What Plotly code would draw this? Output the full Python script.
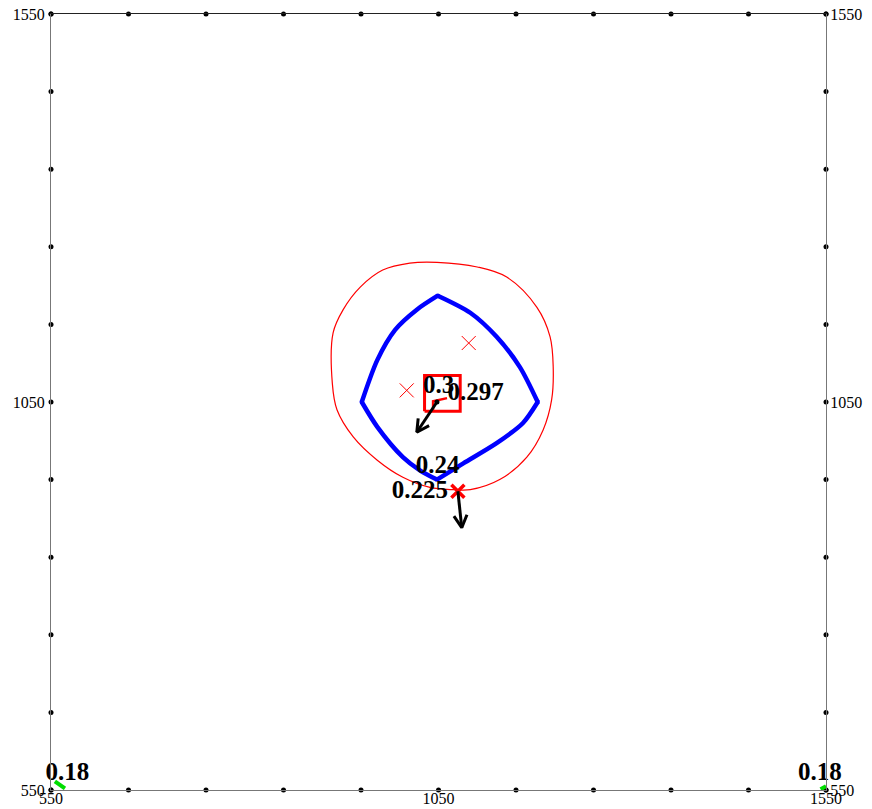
import numpy as np
import plotly.graph_objects as go

# ---- data ----------------------------------------------------------------
axis_range = [550, 1550]
tick_vals = [550, 1050, 1550]
tick_text = ["550", "1050", "1550"]
grid_dots = list(range(550, 1551, 100))

# blue region boundary, split at its four corners
blue_edges_x = [
    [1049, 1091, 1125, 1155, 1178],
    [1178, 1159, 1125, 1082, 1048],
    [1048, 1026, 1004, 971, 951],
    [951, 971, 994, 1022, 1049],
]
blue_edges_y = [
    [1187, 1165, 1134, 1095, 1050],
    [1050, 1023, 997, 971, 950],
    [950, 962, 979, 1018, 1050],
    [1050, 1104, 1143, 1169, 1187],
]

# red outer contour
red_x = [1048, 1100, 1138, 1177, 1194, 1198, 1196, 1185, 1164, 1129, 1091, 1069, 1039, 1004,
         971, 940, 919, 913, 914, 927, 949, 978, 1013, 1048]
red_y = [1230, 1224, 1211, 1172, 1134, 1095, 1053, 1014, 979, 950, 937, 937, 940, 953,
         975, 1005, 1040, 1074, 1139, 1169, 1198, 1220, 1229, 1230]

# thin red crosses
cross_x = [1089, 1009]
cross_y = [1126, 1065]

# bold red cross
bold_cross_x = [1075]
bold_cross_y = [935]

# red square (center and half width)
square_cx, square_cy, square_half = 1055, 1061, 23

# short red path inside square
path_x = [1043, 1043, 1061]
path_y = [1040, 1051, 1055]

# black point
dot_x = [1048]
dot_y = [1050]

# arrows: (x0, y0, x1, y1)
arrows = [(1048, 1050, 1022, 1011), (1075, 935, 1080, 888)]

# green corner segments
green_segments = [([555, 568], [561, 552]), ([1543, 1550], [551, 555])]

# value labels
label_text = ["0.3", "0.297", "0.24", "0.225", "0.18", "0.18"]
label_x = [1050, 1098, 1049, 1026, 571, 1542]
label_y = [1070, 1060, 966, 934, 571, 571]

# ---- figure --------------------------------------------------------------
fig = go.Figure()

# tick dots along all four edges
edge_x = grid_dots * 2 + [550] * len(grid_dots) + [1550] * len(grid_dots)
edge_y = [550] * len(grid_dots) + [1550] * len(grid_dots) + grid_dots * 2
fig.add_trace(go.Scatter(x=edge_x, y=edge_y, mode="markers",
                         marker=dict(color="black", size=5), cliponaxis=False,
                         hoverinfo="skip"))

fig.add_trace(go.Scatter(x=red_x, y=red_y, mode="lines",
                         line=dict(color="red", width=1.2, shape="spline", smoothing=1.0)))
for ex, ey in zip(blue_edges_x, blue_edges_y):
    fig.add_trace(go.Scatter(x=ex, y=ey, mode="lines",
                             line=dict(color="#0000ff", width=4.5, shape="spline", smoothing=0.8)))
corner_x = [e[0] for e in blue_edges_x]
corner_y = [e[0] for e in blue_edges_y]
fig.add_trace(go.Scatter(x=corner_x, y=corner_y, mode="markers",
                         marker=dict(color="#0000ff", size=4.5)))

# red square
sq_x = [square_cx - square_half, square_cx + square_half, square_cx + square_half,
        square_cx - square_half, square_cx - square_half]
sq_y = [square_cy - square_half, square_cy - square_half, square_cy + square_half,
        square_cy + square_half, square_cy - square_half]
fig.add_trace(go.Scatter(x=sq_x, y=sq_y, mode="lines", line=dict(color="red", width=3)))
fig.add_trace(go.Scatter(x=path_x, y=path_y, mode="lines", line=dict(color="red", width=2.5)))

fig.add_trace(go.Scatter(x=cross_x, y=cross_y, mode="markers",
                         marker=dict(symbol="x-thin-open", size=14, color="red",
                                     line=dict(color="red", width=1))))
fig.add_trace(go.Scatter(x=bold_cross_x, y=bold_cross_y, mode="markers",
                         marker=dict(symbol="x-thin-open", size=13, color="red",
                                     line=dict(color="red", width=3.5))))

# arrows with open heads
head_len, head_ang = 18, np.deg2rad(28)
for x0, y0, x1, y1 in arrows:
    d = np.arctan2(y1 - y0, x1 - x0)
    hx = [x1 - head_len * np.cos(d - head_ang), x1, x1 - head_len * np.cos(d + head_ang)]
    hy = [y1 - head_len * np.sin(d - head_ang), y1, y1 - head_len * np.sin(d + head_ang)]
    fig.add_trace(go.Scatter(x=[x0, x1], y=[y0, y1], mode="lines",
                             line=dict(color="black", width=3)))
    fig.add_trace(go.Scatter(x=hx, y=hy, mode="lines",
                             line=dict(color="black", width=3)))

fig.add_trace(go.Scatter(x=dot_x, y=dot_y, mode="markers", marker=dict(color="black", size=5)))

for gx, gy in green_segments:
    fig.add_trace(go.Scatter(x=gx, y=gy, mode="lines", cliponaxis=False,
                             line=dict(color="#00dd00", width=4)))

fig.add_trace(go.Scatter(x=label_x, y=label_y, mode="text", text=label_text,
                         cliponaxis=False,
                         textfont=dict(family="Liberation Serif", size=25, color="black",
                                       weight="bold")))

axis_font = dict(family="Liberation Serif", size=16, color="black")
fig.update_layout(
    width=872, height=809,
    margin=dict(l=51, r=46, t=14, b=19, autoexpand=False),
    paper_bgcolor="white", plot_bgcolor="white",
    showlegend=False,
    xaxis=dict(range=axis_range, tickvals=tick_vals, ticktext=tick_text, tickfont=axis_font,
               showgrid=False, zeroline=False, showline=True, linecolor="#777", linewidth=1,
               ticks="", automargin=False, ticklabelstandoff=-6),
    xaxis2=dict(range=axis_range, overlaying="x", side="top", showticklabels=False,
                showgrid=False, zeroline=False, showline=True, linecolor="#222", linewidth=1,
                automargin=False),
    yaxis=dict(range=axis_range, tickvals=tick_vals, ticktext=tick_text, tickfont=axis_font,
               showgrid=False, zeroline=False, showline=True, linecolor="#777", linewidth=1,
               ticks="", automargin=False, ticklabelstandoff=2),
    yaxis2=dict(range=axis_range, overlaying="y", side="right", tickvals=tick_vals,
                ticktext=tick_text, tickfont=axis_font, showgrid=False, zeroline=False,
                showline=True, linecolor="#777", linewidth=1, ticks="", automargin=False,
                ticklabelstandoff=0),
)
# invisible trace to activate the secondary axes
fig.add_trace(go.Scatter(x=[axis_range[0]], y=[axis_range[0]], xaxis="x2", yaxis="y2",
                         mode="markers", marker=dict(opacity=0), hoverinfo="skip"))

fig.write_html("out.html")
